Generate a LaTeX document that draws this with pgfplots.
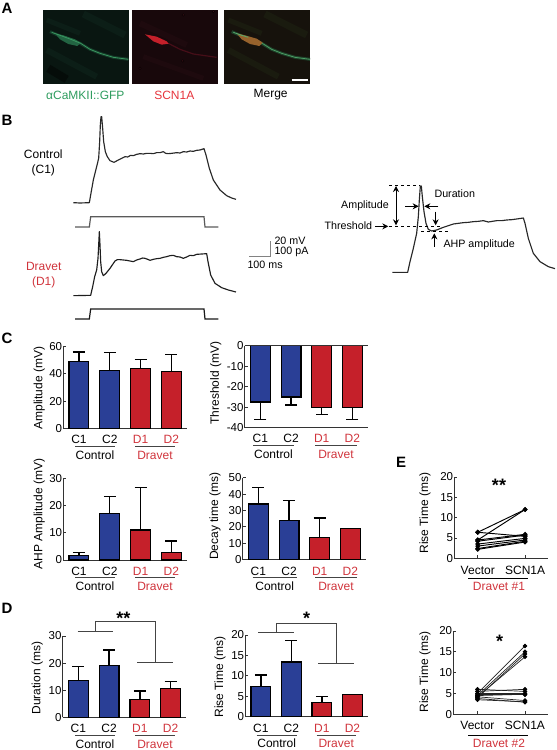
\documentclass[border=0pt]{standalone}
\usepackage{pgfplots}
\usepackage{pgfplotstable}
\usepackage{fontspec}
\setmainfont{Liberation Sans}
\pgfplotsset{compat=1.18}
\usetikzlibrary{arrows.meta}
\definecolor{ctl}{HTML}{2A3F96}
\definecolor{drv}{HTML}{C5202A}
\definecolor{drt}{HTML}{D0343C}
\definecolor{axc}{HTML}{333333}
\definecolor{ulc}{HTML}{444444}
\newcommand\lab{\fontsize{12}{14}\selectfont}
\newcommand\tks{\fontsize{11.5}{14}\selectfont}
\newcommand\sml{\fontsize{10.7}{13}\selectfont}
\newcommand\pan{\fontsize{15}{17}\selectfont\bfseries}

\pgfplotstableread{
x y e
0 49 7
1 42.5 13
}\AmpC
\pgfplotstableread{
x y e
2 44 6.5
3 42 12.5
}\AmpD
\pgfplotstableread{
x y e
0 -27.5 8.5
1 -25 4
}\ThrC
\pgfplotstableread{
x y e
2 -30 3.5
3 -30 6
}\ThrD
\pgfplotstableread{
x y e
0 1.7 1
1 17 6.3
}\AhpC
\pgfplotstableread{
x y e
2 11 15.5
3 2.7 4.3
}\AhpD
\pgfplotstableread{
x y e
0 34 10
1 24 12
}\DecC
\pgfplotstableread{
x y e
2 13.5 12
3 19 0
}\DecD
\pgfplotstableread{
x y e
0 13.5 5.2
1 19 5.8
}\DurC
\pgfplotstableread{
x y e
2 6.5 3.2
3 10.5 2.8
}\DurD
\pgfplotstableread{
x y e
0 7.4 2.8
1 13.4 5.2
}\RisC
\pgfplotstableread{
x y e
2 3.4 1.5
3 5.5 0
}\RisD

\pgfplotsset{
  pxaxis/.style={scale only axis,hide axis,clip=false,y dir=reverse,anchor=south west},
  panelaxis/.style={scale only axis,clip=false,anchor=south west,
    axis line style={line width=0.9pt,draw=axc},
    tick style={line width=0.8pt,draw=axc},
    y tick label style={font=\tks,inner sep=1pt},
    x tick label style={font=\lab,inner sep=1.5pt},
    /pgf/number format/assume math mode=true,
    tickwidth=3pt},
  errs/.style={error bars/.cd,y dir=#1,y explicit,
    error bar style={line width=1.4pt,black},
    error mark options={rotate=90,mark size=6pt,line width=1.3pt,black}},
  pair1/.style={black,line width=.95pt,mark=*,mark size=1.9pt,mark options={fill=black,draw=black,solid}},
  pair2/.style={color={rgb,255:red,35;green,35;blue,35},line width=.7pt,mark=*,mark size=1.9pt,mark options={fill=black,draw=black,solid}},
}
% left, bottom, right, top, ymin, ymax, yticks, control table, dravet table
\newcommand\barpanel[9]{%
\begin{axis}[panelaxis,
  at={({#1*1pt},{(750-#2)*1pt})},
  width={(#3-#1)*1pt},height={(#2-#4)*1pt},
  xmin=-0.51,xmax=3.5,ymin=#5,ymax=#6,
  ytick={#7},xtick={0,1,2,3},
  xticklabels={C1,C2,\textcolor{drt}{D1},\textcolor{drt}{D2}},
  axis x line*=bottom,axis y line*=left,
  major x tick style={draw=none},
  x tick label style={yshift=-2.5pt},
  ybar,bar width=19.8pt,bar shift=0pt]
\addplot[fill=ctl,draw=black,line width=1.2pt,errs=plus] table[x=x,y=y,y error=e]{#8};
\addplot[fill=drv,draw=black,line width=1.2pt,errs=plus] table[x=x,y=y,y error=e]{#9};
\end{axis}}

\begin{document}
\begin{tikzpicture}
\path[use as bounding box] (0,0) rectangle (557pt,750pt);

% ---------- Panel A: micrographs, coordinates as 3x pixels of the top strip
\begin{axis}[pxaxis,at={(0pt,640pt)},width=320pt,height=110pt,xmin=0,xmax=960,ymin=0,ymax=330]
\addplot[fill={rgb,255:red,9;green,22;blue,17},draw=none] coordinates {(128,30)(386,30)(386,252)(128,252)} --cycle;
\addplot[fill={rgb,255:red,24;green,8;blue,11},draw=none] coordinates {(396,30)(655,30)(655,252)(396,252)} --cycle;
\addplot[fill={rgb,255:red,22;green,18;blue,12},draw=none] coordinates {(672,30)(931,30)(931,252)(672,252)} --cycle;
% faint streaks
\addplot[draw={rgb,255:red,12;green,30;blue,23},line width=5pt] coordinates {(140,60)(240,100)};
\addplot[draw={rgb,255:red,12;green,30;blue,23},line width=7pt] coordinates {(250,42)(375,105)};
\addplot[draw={rgb,255:red,12;green,30;blue,23},line width=6pt] coordinates {(140,150)(290,230)};
\addplot[draw={rgb,255:red,5;green,12;blue,9},line width=8pt] coordinates {(145,205)(200,238)};
\addplot[draw={rgb,255:red,26;green,27;blue,15},line width=5pt] coordinates {(685,60)(785,100)};
\addplot[draw={rgb,255:red,26;green,27;blue,15},line width=7pt] coordinates {(795,42)(920,105)};
\addplot[draw={rgb,255:red,26;green,27;blue,15},line width=6pt] coordinates {(685,150)(835,230)};
\addplot[draw={rgb,255:red,30;green,10;blue,14},line width=6pt] coordinates {(420,70)(560,135)};
\addplot[draw={rgb,255:red,30;green,10;blue,14},line width=5pt] coordinates {(430,170)(610,235)};
% green neuron
\addplot[draw={rgb,255:red,20;green,58;blue,40},line width=3pt] coordinates {(150,95)(180,108)(215,120)(240,130)(270,148)(300,160)(340,172)(385,178)};
\addplot[fill={rgb,255:red,34;green,100;blue,66},draw=none] coordinates {(165,100)(190,106)(225,118)(242,128)(232,138)(205,132)(180,118)} --cycle;
\addplot[draw={rgb,255:red,58;green,150;blue,96},line width=.8pt] coordinates {(155,97)(180,106)(215,119)(242,130)(270,148)(300,160)(340,172)(385,178)};
% red neuron
\addplot[draw={rgb,255:red,70;green,14;blue,24},line width=1.2pt] coordinates {(505,130)(540,148)(580,162)(650,172)};
\addplot[fill={rgb,255:red,196;green,32;blue,42},draw=none] coordinates {(435,103)(470,110)(500,124)(506,131)(485,134)(460,124)} --cycle;
\addplot[only marks,mark=*,mark size=1.2pt,mark options={draw=none,fill={rgb,255:red,70;green,18;blue,26}}] coordinates {(548,183)(420,205)(640,35)(550,45)};
% merge neuron
\addplot[draw={rgb,255:red,30;green,66;blue,42},line width=3pt] coordinates {(695,95)(725,108)(760,120)(785,130)(815,148)(845,160)(885,172)(930,178)};
\addplot[fill={rgb,255:red,150;green,98;blue,44},draw=none] coordinates {(710,100)(735,106)(770,116)(788,128)(778,138)(750,132)(725,118)} --cycle;
\addplot[draw={rgb,255:red,86;green,170;blue,110},line width=.8pt] coordinates {(700,97)(725,106)(745,112)};
\addplot[draw={rgb,255:red,76;green,156;blue,100},line width=.8pt] coordinates {(787,130)(815,148)(845,160)(885,172)(930,178)};
\addplot[draw=white,line width=2pt] coordinates {(875,240)(925,240)};
\node[font=\lab,text={rgb,255:red,46;green,156;blue,94}] at (256,285) {αCaMKII::GFP};
\node[font=\lab,text={rgb,255:red,230;green,52;blue,60}] at (523,285) {SCN1A};
\node[font=\lab] at (812,285) {Merge};
\end{axis}

% ---------- Panel B traces, coordinates as 3x pixels of that strip
\begin{axis}[pxaxis,at={(0pt,425pt)},width=300pt,height=220pt,xmin=0,xmax=900,ymin=0,ymax=660]
\addplot[line width=1.15pt,color={rgb,255:red,40;green,40;blue,40},line join=round] coordinates {
(220,293)(240,294)(268,293)(272,270)(280,225)(290,185)(296,160)(299,110)(301,60)(303,35)(305,35)(308,70)(311,110)(316,140)(322,155)(330,167)(342,172)(355,165)(367,159)(375,155)(383,156)(392,151)(400,152)(410,148)(420,146)(430,147)(440,145)(450,145)(460,146)(470,143)(480,143)(490,140)(497,145)(505,146)(515,145)(530,143)(540,144)(550,140)(560,141)(570,138)(580,139)(590,136)(600,135)(612,131)(618,150)(628,190)(640,225)(660,255)(680,272)(695,279)(708,283)};
\addplot[line width=1.2pt,color={rgb,255:red,90;green,90;blue,90}] coordinates {(225,366)(268,366)(272,335)(612,335)(615,366)(655,366)};
\addplot[line width=1.15pt,color={rgb,255:red,30;green,30;blue,30},line join=round] coordinates {
(220,572)(272,571)(278,545)(284,515)(290,495)(294,460)(296,420)(298,380)(300,420)(302,470)(305,500)(310,512)(318,505)(330,490)(345,468)(352,464)(360,464)(370,465)(380,466)(390,468)(400,470)(410,465)(420,462)(428,459)(435,460)(443,463)(450,466)(460,463)(470,461)(480,460)(490,457)(500,455)(510,452)(520,451)(530,455)(540,456)(550,460)(560,456)(570,451)(580,452)(590,448)(605,447)(620,446)(624,470)(632,510)(645,535)(665,548)(685,555)(708,561)};
\addplot[line width=1.2pt,color={rgb,255:red,25;green,25;blue,25}] coordinates {(225,642)(268,642)(272,612)(612,612)(615,642)(655,642)};
\end{axis}

% ---------- Panel B schematic and scale bar
\begin{axis}[pxaxis,at={(240pt,450pt)},width=317pt,height=150pt,xmin=0,xmax=951,ymin=0,ymax=450]
\addplot[line width=1.15pt,color={rgb,255:red,40;green,40;blue,40},line join=round] coordinates {
(457,367)(503,367)(510,335)(520,295)(530,250)(535,200)(538,150)(541,108)(544,108)(547,140)(552,185)(558,220)(565,238)(575,243)(590,240)(610,232)(625,227)(640,222)(655,220)(670,218)(685,217)(700,215)(715,214)(730,212)(745,216)(757,214)(770,212)(785,212)(800,210)(815,209)(830,207)(850,204)(855,220)(865,265)(880,310)(900,335)(925,350)(945,356)};
\addplot[line width=.8pt,dashed,color=black] coordinates {(448,106)(541,106)};
\addplot[line width=.8pt,dashed,color=black] coordinates {(448,229)(600,229)};
\addplot[line width=.8pt,dashed,color=black] coordinates {(543,244)(630,244)};
\addplot[line width=1pt,black,{Stealth[length=6pt,width=6pt]}-{Stealth[length=6pt,width=6pt]}] coordinates {(468,108)(468,226)};
\addplot[line width=1pt,black,-{Stealth[length=6pt,width=6pt]}] coordinates {(495,169)(536,169)};
\addplot[line width=1pt,black,-{Stealth[length=6pt,width=6pt]}] coordinates {(595,169)(553,169)};
\addplot[line width=1pt,black,-{Stealth[length=6pt,width=6pt]}] coordinates {(587,185)(587,226)};
\addplot[line width=1pt,black,-{Stealth[length=6pt,width=6pt]}] coordinates {(583,290)(583,250)};
\addplot[line width=1pt,black,-{Stealth[length=6pt,width=6pt]}] coordinates {(405,229)(445,229)};
\addplot[line width=.7pt,color={rgb,255:red,130;green,130;blue,130}] coordinates {(27,320)(92,320)(92,272)};
\node[font=\sml,anchor=west,inner sep=0pt] at (583,132) {Duration};
\node[font=\sml] at (375,166) {Amplitude};
\node[font=\sml] at (325,228) {Threshold};
\node[font=\sml,anchor=west,inner sep=0pt] at (610,283) {AHP amplitude};
\node[font=\sml,anchor=west,inner sep=0pt] at (103,272) {20 mV};
\node[font=\sml,anchor=west,inner sep=0pt] at (103,306) {100 pA};
\node[font=\sml,anchor=west,inner sep=0pt] at (22,344) {100 ms};
\end{axis}

% ---------- Panels C and D
\barpanel{63.3}{428.3}{186.7}{346.7}{0}{60}{0,20,40,60}{\AmpC}{\AmpD}
\barpanel{63.3}{560}{186.7}{478.3}{0}{30}{0,10,20,30}{\AhpC}{\AhpD}
\barpanel{242.7}{559.7}{365.7}{477.7}{0}{50}{0,10,20,30,40,50}{\DecC}{\DecD}
\barpanel{62.7}{717.3}{186}{636}{0}{30}{0,10,20,30}{\DurC}{\DurD}
\barpanel{245.3}{716.7}{367.7}{635}{0}{20}{0,5,10,15,20}{\RisC}{\RisD}
\begin{axis}[panelaxis,at={(244.7pt,{(750-427.7)*1pt})},width=123pt,height=82pt,
  xmin=-0.51,xmax=3.5,ymin=-40,ymax=0,ytick={-40,-30,-20,-10,0},xtick={0,1,2,3},
  xticklabels={C1,C2,\textcolor{drt}{D1},\textcolor{drt}{D2}},
  axis x line*=bottom,axis y line*=left,major x tick style={draw=none},
  x tick label style={yshift=-2pt},
  ybar,bar width=19.8pt,bar shift=0pt]
\addplot[fill=ctl,draw=black,line width=1.2pt,errs=minus] table[x=x,y=y,y error=e]{\ThrC};
\addplot[fill=drv,draw=black,line width=1.2pt,errs=minus] table[x=x,y=y,y error=e]{\ThrD};
\draw[line width=.9pt,draw=axc] (axis cs:-0.51,0)--(axis cs:3.5,0);
\end{axis}

% ---------- Panel E
\begin{axis}[panelaxis,at={(454.3pt,{(750-558.3)*1pt})},width=94pt,height=81.3pt,
  xmin=-0.495,xmax=1.49,ymin=0,ymax=20,ytick={0,5,10,15,20},xtick={0,1},
  xticklabels={Vector,SCN1A},axis x line*=bottom,axis y line*=left,
  x tick label style={yshift=-6pt}]
\addplot[pair1] coordinates {(0,6.4)(1,12)};
\addplot[pair1] coordinates {(0,4.5)(1,12)};
\addplot[pair1] coordinates {(0,4.5)(1,5.9)};
\addplot[pair1] coordinates {(0,6.4)(1,5.4)};
\addplot[pair1] coordinates {(0,4.2)(1,5.7)};
\addplot[pair1] coordinates {(0,3.5)(1,4.9)};
\addplot[pair1] coordinates {(0,3)(1,4.5)};
\addplot[pair1] coordinates {(0,2.4)(1,4.2)};
\addplot[pair1] coordinates {(0,2.2)(1,4)};
\end{axis}
\begin{axis}[panelaxis,at={(453.3pt,{(750-714.3)*1pt})},width=95pt,height=83.3pt,
  xmin=-0.507,xmax=1.49,ymin=0,ymax=20,ytick={0,5,10,15,20},xtick={0,1},
  xticklabels={Vector,SCN1A},axis x line*=bottom,axis y line*=left,
  x tick label style={yshift=-5pt}]
\addplot[pair2] coordinates {(0,5)(1,16.4)};
\addplot[pair2] coordinates {(0,4.5)(1,15)};
\addplot[pair2] coordinates {(0,4)(1,14.5)};
\addplot[pair2] coordinates {(0,4.2)(1,13.8)};
\addplot[pair2] coordinates {(0,6)(1,5.5)};
\addplot[pair2] coordinates {(0,5.5)(1,6)};
\addplot[pair2] coordinates {(0,5)(1,5)};
\addplot[pair2] coordinates {(0,4.7)(1,4.7)};
\addplot[pair2] coordinates {(0,4.5)(1,4.8)};
\addplot[pair2] coordinates {(0,4.2)(1,3.3)};
\addplot[pair2] coordinates {(0,3.8)(1,2.9)};
\addplot[pair2] coordinates {(0,3.5)(1,3)};
\end{axis}

% ---------- Page overlay: all annotations, in pixels of the reference
\begin{axis}[pxaxis,at={(0pt,0pt)},width=557pt,height=750pt,xmin=0,xmax=557,ymin=0,ymax=750]
\node[font=\pan] at (7,8) {A};
\node[font=\pan] at (7,120) {B};
\node[font=\pan] at (7,338) {C};
\node[font=\pan] at (7,608) {D};
\node[font=\pan] at (401,462) {E};
\node[font=\lab] at (43.3,154) {Control};
\node[font=\lab] at (43.3,170) {(C1)};
\node[font=\lab,text=drt] at (43.7,266) {Dravet};
\node[font=\lab,text=drt] at (43.7,282) {(D1)};
% y labels
\node[font=\lab,rotate=90] at (39.3,388) {Amplitude (mV)};
\node[font=\lab,rotate=90] at (215.7,383) {Threshold (mV)};
\node[font=\lab,rotate=90] at (39.3,514) {AHP Amplitude (mV)};
\node[font=\lab,rotate=90] at (215,516) {Decay time (ms)};
\node[font=\lab,rotate=90] at (37.3,678) {Duration (ms)};
\node[font=\lab,rotate=90] at (220,677) {Rise Time (ms)};
\node[font=\lab,rotate=90] at (425,513) {Rise Time (ms)};
\node[font=\lab,rotate=90] at (425,672) {Rise Time (ms)};
% group rules and names
\newcommand\grp[7]{%
  \draw[line width=.9pt,draw=ulc] (axis cs:#1,#3)--(axis cs:#2,#3);
  \draw[line width=.9pt,draw=ulc] (axis cs:#4,#3)--(axis cs:#5,#3);
  \node[font=\lab] at (axis cs:{(#1+#2)/2},#6) {Control};
  \node[font=\lab,text=drt] at (axis cs:{(#4+#5)/2},#6) {Dravet};}
\grp{75}{115}{446}{135}{175}{455}{}
\grp{253}{294}{445.7}{315}{357}{454}{}
\grp{75}{115}{577.7}{135}{175}{586}{}
\grp{252.7}{296.7}{577.7}{315}{357}{586}{}
\grp{75}{115}{735.7}{135}{175}{744}{}
\grp{256.7}{296.7}{735}{316.7}{355.7}{743}{}
% E group rules
\draw[line width=.9pt,black] (axis cs:468,578)--(axis cs:527.7,578);
\node[font=\lab,text=drt] at (499,586.7) {Dravet \#1};
\draw[line width=.9pt,black] (axis cs:468,735)--(axis cs:527.7,735);
\node[font=\lab,text=drt] at (499,743) {Dravet \#2};
% brackets
\draw[line width=.9pt,draw=ulc] (axis cs:77.7,631)--(axis cs:113.3,631);
\draw[line width=.9pt,draw=ulc] (axis cs:95.7,631)--(axis cs:95.7,621.7)--(axis cs:155.7,621.7)--(axis cs:155.7,662);
\draw[line width=.9pt,draw=ulc] (axis cs:137.3,662)--(axis cs:172.7,662);
\draw[line width=.9pt,draw=ulc] (axis cs:258,632)--(axis cs:294,632);
\draw[line width=.9pt,draw=ulc] (axis cs:276.7,632)--(axis cs:276.7,623)--(axis cs:336.7,623)--(axis cs:336.7,663);
\draw[line width=.9pt,draw=ulc] (axis cs:318.3,663)--(axis cs:353.7,663);
\node[font=\fontsize{18}{20}\selectfont\bfseries] at (123.3,618) {**};
\node[font=\fontsize{18}{20}\selectfont\bfseries] at (306.7,618) {*};
\node[font=\fontsize{18}{20}\selectfont\bfseries] at (499,485) {**};
\node[font=\fontsize{18}{20}\selectfont\bfseries] at (499.5,641) {*};
\end{axis}
\end{tikzpicture}
\end{document}
